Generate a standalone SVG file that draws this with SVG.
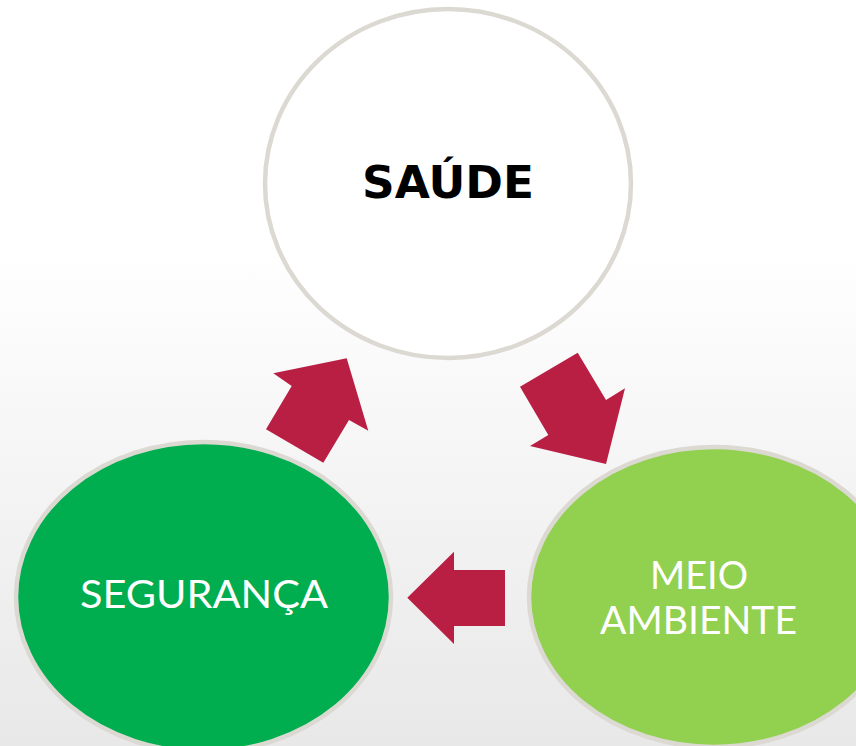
<svg xmlns="http://www.w3.org/2000/svg" width="856" height="746" viewBox="0 0 856 746">
<defs>
<linearGradient id="bg" x1="0" y1="0" x2="0" y2="746" gradientUnits="userSpaceOnUse">
<stop offset="0" stop-color="#ffffff"/>
<stop offset="0.33" stop-color="#ffffff"/>
<stop offset="1" stop-color="#e8e8e8"/>
</linearGradient>
</defs>
<style>
.node{stroke:#dcd9d3;stroke-width:4.5}
.arrow{fill:#b91e43}
.lbl{font-family:Lato,"Open Sans","Liberation Sans",sans-serif;fill:#ffffff;font-size:39px;text-anchor:middle}
</style>
<rect x="0" y="0" width="856" height="746" fill="url(#bg)"/>
<g id="saude">
<ellipse class="node" cx="448" cy="183.5" rx="183" ry="174.5" fill="#ffffff"/>
<text x="448" y="198" font-family="'DejaVu Sans',sans-serif" font-weight="bold" font-size="45" text-anchor="middle" fill="#000000" textLength="172" lengthAdjust="spacingAndGlyphs">SAÚDE</text>
</g>
<g id="seguranca">
<ellipse class="node" cx="203.5" cy="597" rx="187.5" ry="155" fill="#00ae4f"/>
<text class="lbl" x="204" y="608" textLength="248" lengthAdjust="spacingAndGlyphs">SEGURANÇA</text>
</g>
<g id="meio-ambiente">
<ellipse class="node" cx="714" cy="597" rx="185" ry="150" fill="#92d050"/>
<text class="lbl" x="699" y="589" textLength="98" lengthAdjust="spacingAndGlyphs">MEIO</text>
<text class="lbl" x="698.5" y="634" textLength="197" lengthAdjust="spacingAndGlyphs">AMBIENTE</text>
</g>
<g id="connectors">
<polygon class="arrow" points="273.3,373.3 346.7,358.3 368.3,430.7 349,420 323.3,462.7 266,429.3 291.7,386"/>
<polygon class="arrow" points="520,386.7 577.7,352.7 606,400 625,388.3 606,464 530,446 548.3,435"/>
<polygon class="arrow" points="407.3,597.7 454,551.7 454,570 505,570 505,626 454,626 454,644"/>
</g>
</svg>
